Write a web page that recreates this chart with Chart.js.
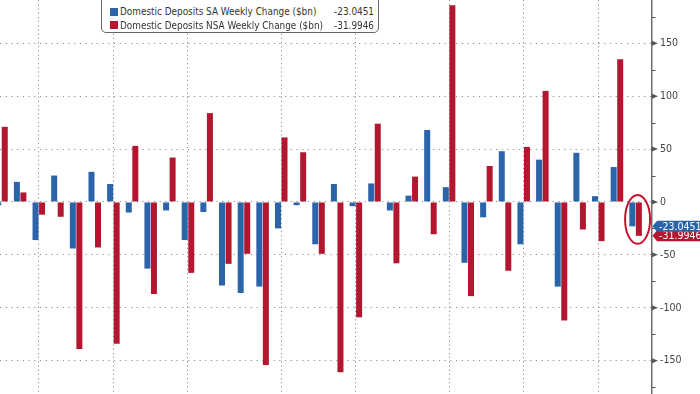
<!DOCTYPE html>
<html>
<head>
<meta charset="utf-8">
<script src="https://cdn.jsdelivr.net/npm/chart.js@4/dist/chart.umd.min.js"></script>
<style>
html,body{margin:0;padding:0;background:#fff;}
#wrap{position:relative;width:700px;height:394px;overflow:hidden;background:#fff;}
#chart{position:absolute;left:0;top:0;}
#legend{position:absolute;left:101px;top:-6px;width:276px;height:37px;border:1px solid #666;border-radius:5px;background:#fff;
  font-family:'DejaVu Sans Condensed','DejaVu Sans',sans-serif;font-size:9.9px;color:#333;}
.row{position:absolute;left:0;right:0;height:13px;line-height:13px;white-space:nowrap;}
.sw{position:absolute;left:8px;top:2.5px;width:8px;height:8px;}
.lbl{position:absolute;left:18px;top:0;}
.val{position:absolute;right:4px;top:0;}
</style>
</head>
<body>
<div id="wrap">
  <canvas id="chart" width="700" height="394"></canvas>
  <div id="legend"></div>
</div>
<script>
// ---- data ----
const weeks = ['W1','W2','W3','W4','W5','W6','W7','W8','W9','W10','W11','W12','W13','W14','W15','W16','W17','W18',
               'W19','W20','W21','W22','W23','W24','W25','W26','W27','W28','W29','W30','W31','W32','W33','W34','W35'];
const saChange  = [-3, 19, -36, 25, -44, 28.5, 17, -10, -63, -8, -36, -9.5, -79, -86, -80, -25, -3, -40,
                   17, -4, 17.5, -8, 6, 68, 14, -57.5, -14.5, 48, -40, 40, -80, 46.5, 5.5, 33, -23.0451];
const nsaChange = [71, 9, -12, -14, -139, -43, -134, 53, -87, 42, -67, 84, -58.5, -49, -154, 61, 47, -49,
                   -161, -109, 74, -58, 24, -30.5, 186, -89, 34, -65, 52, 105, -112, -26, -37, 135, -31.9946];
const seriesNames = ['Domestic Deposits SA Weekly Change ($bn)', 'Domestic Deposits NSA Weekly Change ($bn)'];
const monthTickWeeks = ['W3','W7','W11','W16','W20','W25','W29','W33'];
const yTickLabels = [-150, -100, -50, 0, 50, 100, 150];
const yMinorTicks = [-175, -125, -75, -25, 25, 75, 125, 175];

const BLUE = '#2b64a8';
const RED = '#b3172f';
const FONT = "'DejaVu Sans Condensed','DejaVu Sans',sans-serif";

// ---- legend (HTML) ----
const legendEl = document.getElementById('legend');
[[seriesNames[0], BLUE, saChange], [seriesNames[1], RED, nsaChange]].forEach((s, i) => {
  const row = document.createElement('div');
  row.className = 'row';
  row.style.top = (i === 0 ? 10 : 23.5) + 'px';
  row.innerHTML = '<span class="sw" style="background:' + s[1] + '"></span><span class="lbl">' + s[0] +
                  '</span><span class="val">' + s[2][s[2].length - 1].toFixed(4) + '</span>';
  legendEl.appendChild(row);
});

// ---- annotation plugin: axis tick marks, last-value flags, highlight ellipse ----
const overlay = {
  id: 'overlay',
  afterDraw(chart) {
    const ctx = chart.ctx, ys = chart.scales.y, xs = chart.scales.x;
    const right = chart.chartArea.right;
    ctx.save();
    // tick marks
    ctx.fillStyle = '#555'; ctx.strokeStyle = '#555'; ctx.lineWidth = 1;
    yTickLabels.forEach(v => {
      const y = ys.getPixelForValue(v);
      ctx.beginPath(); ctx.moveTo(right, y - 2.5); ctx.lineTo(right + 6, y); ctx.lineTo(right, y + 2.5); ctx.closePath(); ctx.fill();
    });
    yMinorTicks.forEach(v => {
      const y = Math.round(ys.getPixelForValue(v)) + 0.5;
      ctx.beginPath(); ctx.moveTo(right, y); ctx.lineTo(right + 3.5, y); ctx.stroke();
    });
    // highlight ellipse around last week
    const li = weeks.length - 1;
    const cx = xs.getPixelForValue(li) + 2;
    const top = ys.getPixelForValue(0) - 7;
    const bot = ys.getPixelForValue(Math.min(saChange[li], nsaChange[li])) + 8;
    ctx.strokeStyle = '#c8102e'; ctx.lineWidth = 2;
    ctx.beginPath(); ctx.ellipse(cx, (top + bot) / 2, 12.5, (bot - top) / 2, 0, 0, Math.PI * 2); ctx.stroke();
    // flags (red first, blue on top)
    [[nsaChange, RED], [saChange, BLUE]].forEach(([arr, col]) => {
      const v = arr[li];
      const y = ys.getPixelForValue(v);
      ctx.fillStyle = col;
      ctx.beginPath();
      ctx.moveTo(right + 0.5, y);
      ctx.lineTo(right + 5, y - 5.5);
      ctx.lineTo(chart.width, y - 5.5);
      ctx.lineTo(chart.width, y + 5.5);
      ctx.lineTo(right + 5, y + 5.5);
      ctx.closePath(); ctx.fill();
      ctx.fillStyle = '#fff';
      ctx.font = '10.5px ' + FONT;
      ctx.textBaseline = 'middle'; ctx.textAlign = 'left';
      ctx.fillText(v.toFixed(4), right + 7, y + 0.5);
    });
    ctx.restore();
  }
};

new Chart(document.getElementById('chart'), {
  type: 'bar',
  data: {
    datasets: [
      { label: seriesNames[0], data: saChange.map((v, i) => ({ x: i, y: v })), backgroundColor: BLUE,
        categoryPercentage: 0.7, barPercentage: 0.92 },
      { label: seriesNames[1], data: nsaChange.map((v, i) => ({ x: i, y: v })), backgroundColor: RED,
        categoryPercentage: 0.7, barPercentage: 0.92 }
    ]
  },
  options: {
    responsive: false,
    animation: false,
    devicePixelRatio: 1,
    layout: { padding: 0 },
    plugins: { legend: { display: false }, tooltip: { enabled: false } },
    scales: {
      x: {
        type: 'linear', min: -0.08, max: 34.88, offset: false,
        afterBuildTicks: s => { s.ticks = monthTickWeeks.map(w => ({ value: weeks.indexOf(w) })); },
        ticks: { display: false },
        grid: { color: '#8f8f8f', lineWidth: 1, drawTicks: false, offset: false },
        border: { display: false, dash: [1.2, 3] }
      },
      y: {
        position: 'right', min: -181.5, max: 190.9,
        afterBuildTicks: s => { s.ticks = yMinorTicks.concat(yTickLabels).sort((a, b) => a - b).map(v => ({ value: v })); },
        afterFit: s => { s.width = 48; s.paddingTop = 0; s.paddingBottom = 0; },
        ticks: { padding: 8, color: '#444', autoSkip: false, font: { family: FONT, size: 10.5 },
                 callback: v => yTickLabels.includes(v) ? String(v) : '' },
        grid: { drawTicks: false, lineWidth: 1,
                color: c => (c.tick && yTickLabels.includes(c.tick.value)) ? '#8f8f8f' : 'rgba(0,0,0,0)' },
        border: { display: true, color: '#6e6e6e', width: 1.5, dash: [1.2, 4.5] }
      }
    }
  },
  plugins: [overlay]
});
</script>
</body>
</html>
